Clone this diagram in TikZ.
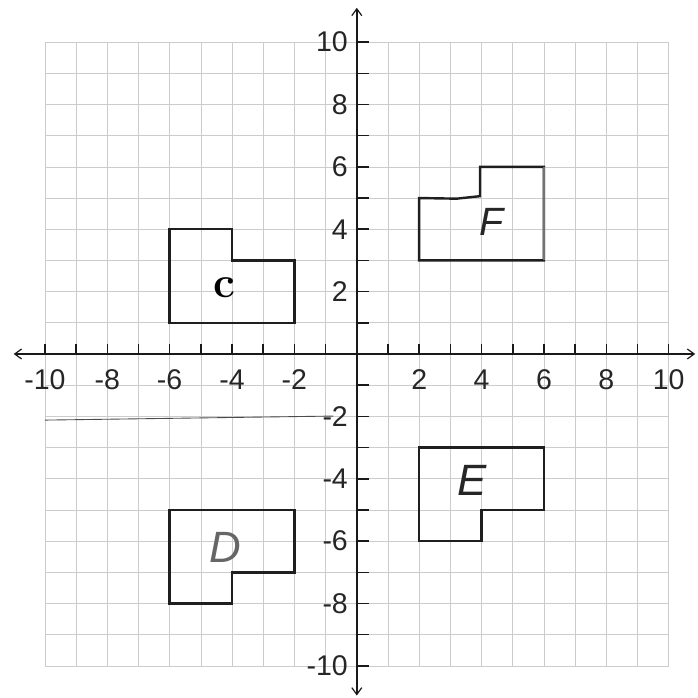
\documentclass[tikz,border=0pt]{standalone}
\usepackage{fontspec}
\newfontfamily\axisfont{Liberation Sans}
\usetikzlibrary{arrows.meta}
\begin{document}
\begin{tikzpicture}[x=1cm,y=1cm,
  gridline/.style={draw=black!20, line width=0.55pt},
  darkline/.style={draw=black!70, line width=0.8pt},
  axisline/.style={line width=1.8pt, draw=black!90,
    {Straight Barb[length=2.2mm,width=3.2mm,line width=1.1pt]}-{Straight Barb[length=2.2mm,width=3.2mm,line width=1.1pt]}},
  tickmark/.style={line width=1.4pt, draw=black!90},
  shapeline/.style={line width=2.2pt, draw=black!88, line join=miter},
  numlabel/.style={font=\axisfont\fontsize{26}{26}\selectfont, text=black!85, inner sep=0pt},
  hand/.style={font=\axisfont\itshape\fontsize{40}{40}\selectfont, inner sep=0pt, text=black!85}
]
\fill[white] (-11.44,-11.03) rectangle (10.93,11.35);
\useasboundingbox (-11.44,-11.03) rectangle (10.93,11.35);

% grid
\draw[gridline] (-10,-10) grid (10,10);
\draw[darkline] (-10,-2.12) -- (-0.75,-1.99);

% axes
\coordinate (xleft) at (-11.0,0);
\coordinate (xright) at (10.85,0);
\coordinate (ybottom) at (0,-10.95);
\coordinate (ytop) at (0,11.1);
\draw[axisline] (xleft) -- (xright);
\draw[axisline] (ybottom) -- (ytop);

% ticks
\foreach \i in {-10,...,-1,1,2,...,10} {
  \draw[tickmark] (\i,0) -- (\i,0.32);
  \draw[tickmark] (0,\i) -- (0.38,\i);
}

% labels
\foreach \i [count=\k] in {-10,-8,-6,-4,-2,2,4,6,8,10} {
  \node[numlabel] (xlab\k) at (\i,-0.83) {\i};
  \node[numlabel, anchor=east] (ylab\k) at (-0.28,\i) {\i};
}

% figures
\draw[shapeline] (-6,1) -- (-6,4) -- (-4,4) -- (-4,3) -- (-2,3) -- (-2,1) -- cycle;
\draw[shapeline] (2,3) -- (2,5) -- (3.2,4.98) -- (3.95,5.06) -- (3.95,6) -- (6,6) -- (6,3) -- cycle;
\draw[line width=2.2pt, draw=black!55] (6,6) -- (6,3);
\draw[shapeline] (2,-3) -- (6,-3) -- (6,-5) -- (4,-5) -- (4,-6) -- (2,-6) -- cycle;
\draw[shapeline] (-6,-5) -- (-2,-5) -- (-2,-7) -- (-4,-7) -- (-4,-8) -- (-6,-8) -- cycle;

\node[font=\bfseries\fontsize{40}{40}\selectfont, inner sep=0pt] (labC) at (-4.23,2.12) {c};
\node[hand, font=\axisfont\itshape\fontsize{36}{36}\selectfont] (labF) at (4.33,4.23) {F};
\node[hand] (labE) at (3.69,-4.04) {E};
\node[hand, text=black!60] (labD) at (-4.23,-6.19) {D};
\end{tikzpicture}
\end{document}
